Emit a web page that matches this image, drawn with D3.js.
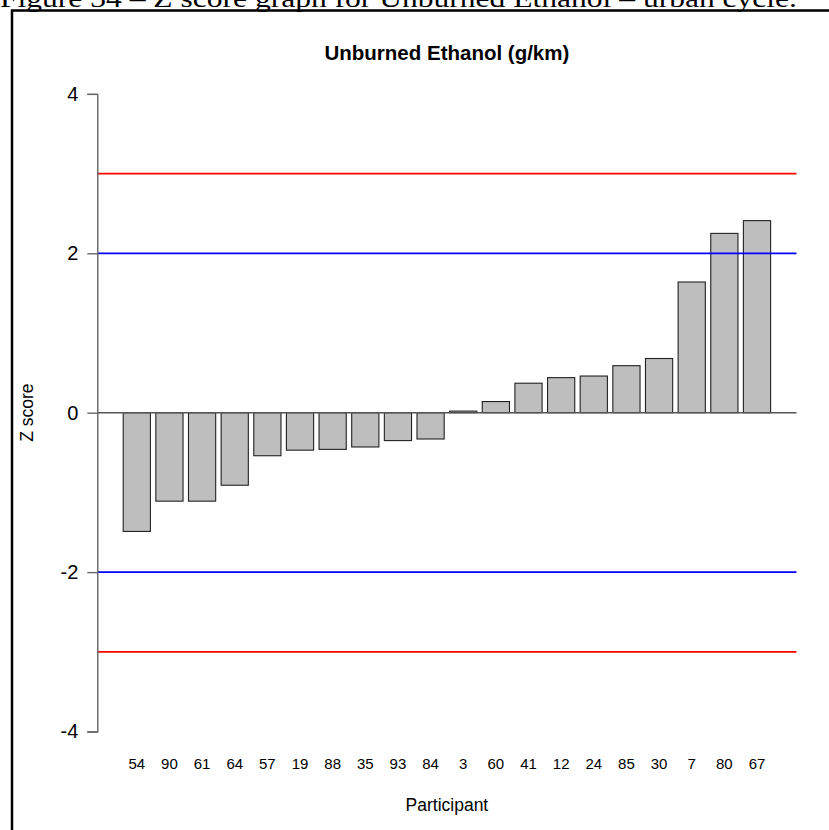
<!DOCTYPE html>
<html>
<head>
<meta charset="utf-8">
<script src="https://cdn.jsdelivr.net/npm/d3@7"></script>
<style>
  body { margin: 0; background: #fff; }
  svg { display: block; }
</style>
</head>
<body>
<div id="chart"></div>
<script>
var participants = ["54", "90", "61", "64", "57", "19", "88", "35", "93", "84",
                    "3", "60", "41", "12", "24", "85", "30", "7", "80", "67"];
var zScores = [-1.49, -1.11, -1.11, -0.91, -0.54, -0.47, -0.46, -0.43, -0.35, -0.33,
               0.02, 0.14, 0.37, 0.44, 0.46, 0.59, 0.68, 1.64, 2.25, 2.41];
var yTicks = [-4, -2, 0, 2, 4];
var warnLines = [2, -2];
var actionLines = [3, -3];

var width = 829, height = 830;
var svg = d3.select("#chart").append("svg")
    .attr("width", width)
    .attr("height", height);

// report caption, cut at the top of the page
svg.append("text")
    .attr("x", 0)
    .attr("y", 7)
    .attr("font-family", "Liberation Serif, Times New Roman, serif")
    .attr("font-size", 26)
    .attr("textLength", 797)
    .attr("lengthAdjust", "spacingAndGlyphs")
    .text("Figure 34 \u2013 Z score graph for Unburned Ethanol \u2013 urban cycle.");

svg.append("rect")
    .attr("x", 12)
    .attr("y", 10.5)
    .attr("width", 900)
    .attr("height", 900)
    .attr("fill", "none")
    .attr("stroke", "#000")
    .attr("stroke-width", 2.5);

// barplot geometry: bar width 1, space 0.2, 4% padding on the x range
var n = participants.length;
var xLo = 0.2, xHi = n * 1.2;
var pad = (xHi - xLo) * 0.04;
var xScale = d3.scaleLinear()
    .domain([xLo - pad, xHi + pad])
    .range([97.3, 796.5]);
var yScale = d3.scaleLinear()
    .domain([-4, 4])
    .range([731.5, 93.9]);

var plot = svg.append("g");

plot.selectAll("rect.bar")
    .data(zScores)
    .enter()
    .append("rect")
    .attr("class", "bar")
    .attr("x", function(d, i) { return xScale(0.2 + i * 1.2); })
    .attr("width", function() { return xScale(1) - xScale(0); })
    .attr("y", function(d) { return yScale(Math.max(0, d)); })
    .attr("height", function(d) { return Math.abs(yScale(d) - yScale(0)); })
    .attr("fill", "#bebebe")
    .attr("stroke", "#222")
    .attr("stroke-width", 1.1);

var x0 = xScale.range()[0], x1 = xScale.range()[1];
function hline(v, color, w) {
    plot.append("line")
        .attr("x1", x0).attr("x2", x1)
        .attr("y1", yScale(v)).attr("y2", yScale(v))
        .attr("stroke", color)
        .attr("stroke-width", w);
}
hline(0, "#555", 1.4);
warnLines.forEach(function(v) { hline(v, "#0000ff", 1.8); });
actionLines.forEach(function(v) { hline(v, "#ff0000", 1.8); });

// y axis
var yAxis = d3.axisLeft(yScale)
    .tickValues(yTicks)
    .tickSize(10)
    .tickPadding(9)
    .tickFormat(function(d) { return String(d); });
var yg = svg.append("g")
    .attr("transform", "translate(" + x0 + ",0)")
    .call(yAxis);
yg.select(".domain").attr("stroke", "#666").attr("stroke-width", 1.4);
yg.selectAll(".tick line").attr("stroke", "#666").attr("stroke-width", 1.4);
yg.selectAll(".tick text")
    .attr("font-family", "Liberation Sans, Arial, sans-serif")
    .attr("font-size", 20)
    .attr("fill", "#000");

// participant labels
svg.append("g").selectAll("text")
    .data(participants)
    .enter()
    .append("text")
    .attr("x", function(d, i) { return xScale(0.7 + i * 1.2); })
    .attr("y", 769)
    .attr("text-anchor", "middle")
    .attr("font-family", "Liberation Sans, Arial, sans-serif")
    .attr("font-size", 15)
    .text(function(d) { return d; });

svg.append("text")
    .attr("x", (x0 + x1) / 2)
    .attr("y", 60)
    .attr("text-anchor", "middle")
    .attr("font-family", "Liberation Sans, Arial, sans-serif")
    .attr("font-weight", "bold")
    .attr("font-size", 20.5)
    .text("Unburned Ethanol (g/km)");

svg.append("text")
    .attr("x", (x0 + x1) / 2)
    .attr("y", 811)
    .attr("text-anchor", "middle")
    .attr("font-family", "Liberation Sans, Arial, sans-serif")
    .attr("font-size", 17.5)
    .text("Participant");

svg.append("text")
    .attr("transform", "translate(33," + yScale(0) + ") rotate(-90)")
    .attr("text-anchor", "middle")
    .attr("font-family", "Liberation Sans, Arial, sans-serif")
    .attr("font-size", 17.5)
    .text("Z score");
</script>
</body>
</html>
